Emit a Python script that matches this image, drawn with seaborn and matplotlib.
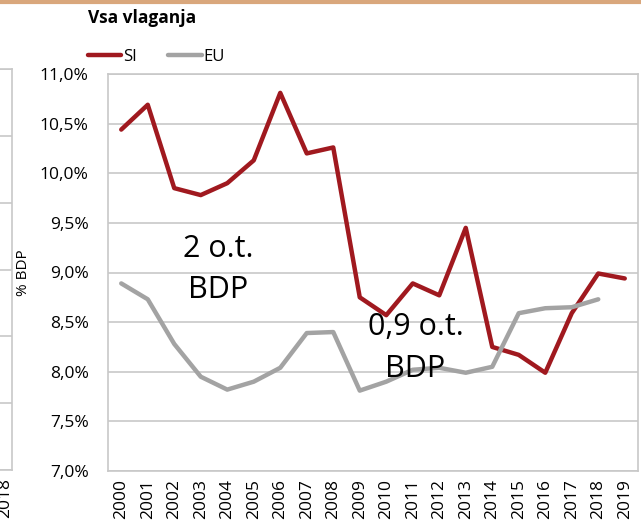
import numpy as np
import pandas as pd
import matplotlib
matplotlib.use("Agg")
import matplotlib.pyplot as plt
import matplotlib.ticker as mticker
import seaborn as sns

# Data (investment, % of GDP)
years = list(range(2000, 2020))
si_values = [10.44, 10.69, 9.85, 9.78, 9.90, 10.13, 10.81, 10.20, 10.26, 8.75,
             8.57, 8.89, 8.77, 9.45, 8.25, 8.17, 7.99, 8.59, 8.99, 8.94]
eu_values = [8.89, 8.73, 8.28, 7.95, 7.82, 7.90, 8.04, 8.39, 8.40, 7.81,
             7.90, 8.02, 8.04, 7.99, 8.05, 8.59, 8.64, 8.65, 8.73, np.nan]
y_ticks = [7.0, 7.5, 8.0, 8.5, 9.0, 9.5, 10.0, 10.5, 11.0]

df = pd.DataFrame({
    "leto": years * 2,
    "vrednost": si_values + eu_values,
    "serija": ["SI"] * len(years) + ["EU"] * len(years),
})

sns.set_theme(style="white")
plt.rcParams["font.family"] = ["Open Sans", "DejaVu Sans"]
plt.rcParams["text.color"] = "black"
plt.rcParams["axes.labelcolor"] = "black"

fig = plt.figure(figsize=(6.41, 5.28), dpi=100)
ax = fig.add_axes([108 / 641, 1 - 471 / 528, 530 / 641, 397 / 528])

palette = {"SI": "#a0191f", "EU": "#a3a3a3"}
sns.lineplot(data=df, x="leto", y="vrednost", hue="serija", palette=palette,
             hue_order=["SI", "EU"], linewidth=3.2, ax=ax, legend=False)

ax.set_xlim(1999.5, 2019.5)
ax.set_ylim(7.0, 11.0)
ax.set_yticks(y_ticks)
ax.yaxis.set_major_formatter(mticker.FuncFormatter(lambda v, p: f"{v:.1f}%".replace(".", ",")))
ax.set_xticks(years)
ax.set_xticklabels([str(y) for y in years], rotation=90)
ax.tick_params(axis="both", labelsize=12.5, colors="#000000", length=0, pad=6)
ax.tick_params(axis="y", pad=14)
ax.grid(axis="y", color="#c8c8c8", linewidth=1.2)
ax.set_axisbelow(True)
for s in ax.spines.values():
    s.set_color("#c8c8c8")
    s.set_linewidth(1.2)
ax.set_xlabel("")
ax.set_ylabel("% BDP", fontsize=11, labelpad=6)

# annotations
ax.text(2003.66, 9.03, "2 o.t.\nBDP", fontsize=22, ha="center", va="center", linespacing=1.5)
ax.text(2011.1, 8.24, "0,9 o.t.\nBDP", fontsize=22, ha="center", va="center", linespacing=1.5)

# title and legend
fig.text(88 / 641, 1 - 18 / 528, "Vsa vlaganja", fontsize=12.5, fontweight="bold", va="center")
handles = [plt.Line2D([], [], color=palette[k], linewidth=3.2) for k in ["SI", "EU"]]
fig.legend(handles, ["SI", "EU"], loc="center left", bbox_to_anchor=(88 / 641, 1 - 57 / 528),
           ncol=2, frameon=False, fontsize=12, handlelength=2.0, handletextpad=0.1,
           columnspacing=1.9, borderpad=0, borderaxespad=0)

# top band and neighbouring chart edge
fig.add_artist(plt.Line2D([0, 1], [1 - 1.5 / 528, 1 - 1.5 / 528], color="#d9a77c", linewidth=3,
                          transform=fig.transFigure))
ax_left = fig.add_axes([-0.5, 1 - 470 / 528, 0.5 + 12 / 641, 401 / 528])
ax_left.set_xlim(0, 1)
ax_left.set_ylim(0, 6)
ax_left.set_yticks(range(7))
ax_left.set_xticks([0.98])
ax_left.set_xticklabels(["2018"], rotation=90, fontsize=12.5)
ax_left.tick_params(length=0, labelleft=False, pad=6, colors="black")
ax_left.grid(axis="y", color="#c8c8c8", linewidth=1.2)
for s in ax_left.spines.values():
    s.set_color("#c8c8c8")
    s.set_linewidth(1.2)

fig.savefig("out.png", dpi=100)
